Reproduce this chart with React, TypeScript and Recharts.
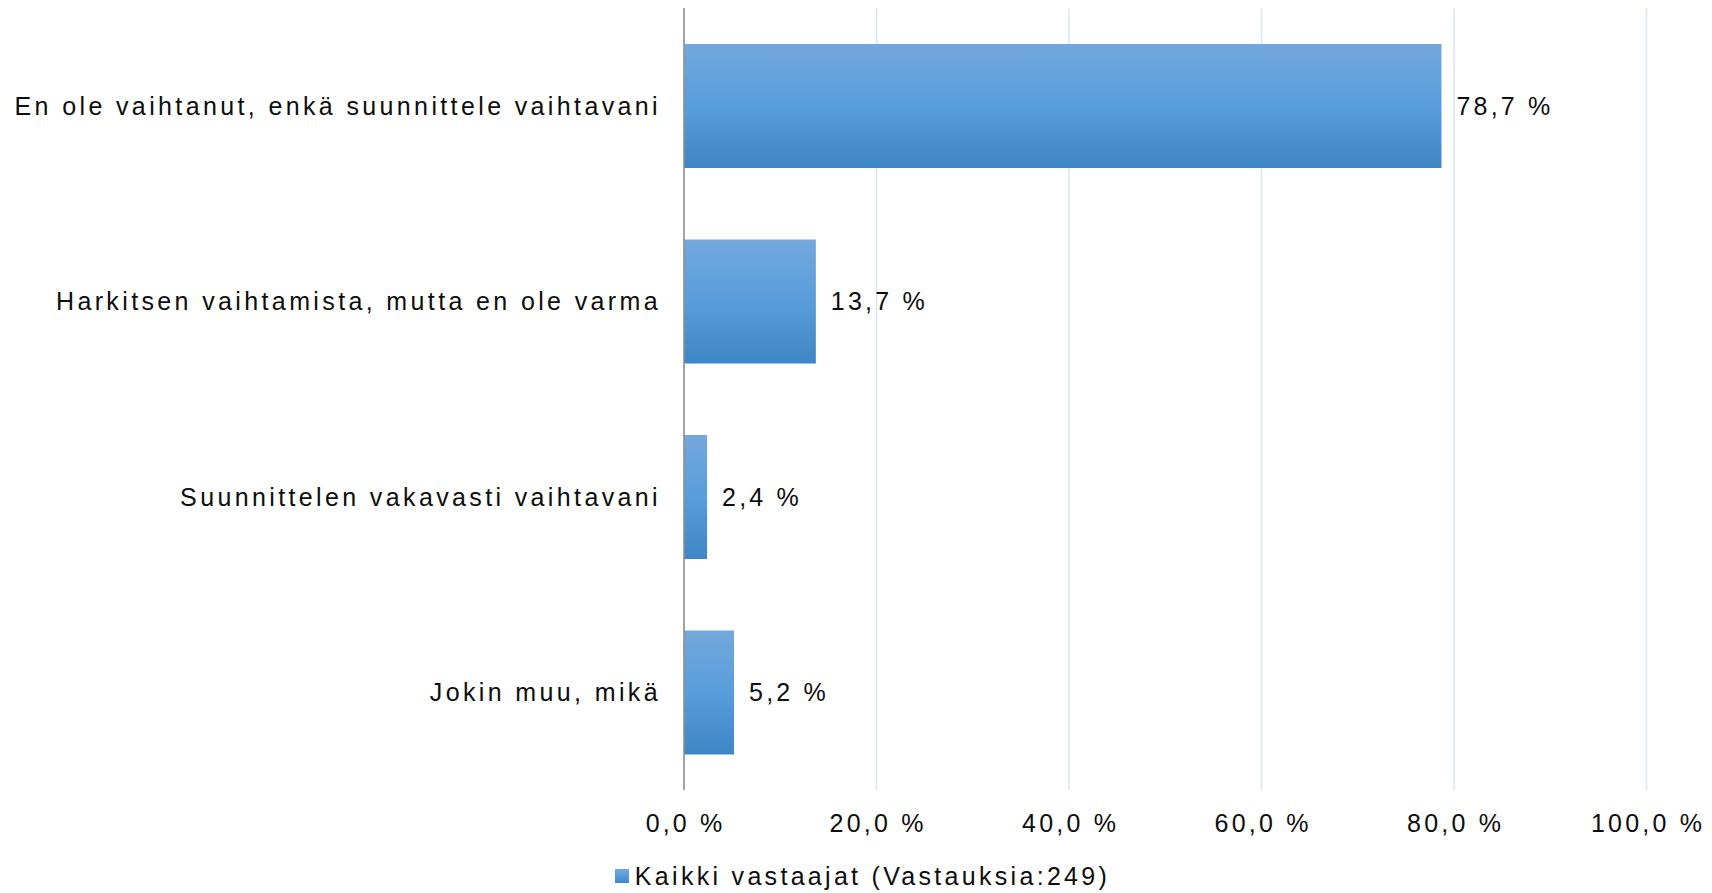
import React from "react";
import { BarChart, Bar, XAxis, YAxis, CartesianGrid, Legend, LabelList } from "recharts";

const categories = [
  "En ole vaihtanut, enkä suunnittele vaihtavani",
  "Harkitsen vaihtamista, mutta en ole varma",
  "Suunnittelen vakavasti vaihtavani",
  "Jokin muu, mikä",
];
const values = [78.7, 13.7, 2.4, 5.2];
const xTicks = [0, 20, 40, 60, 80, 100];
const seriesName = "Kaikki vastaajat (Vastauksia:249)";

const data = categories.map((c, i) => ({ name: c, value: values[i] }));

const FONT = "'Liberation Sans', Arial, sans-serif";
const fmt = (v: number) => v.toFixed(1).replace(".", ",") + " %";

const YTick = (props: any) => {
  const { x, y, payload } = props;
  return (
    <text x={x - 23} y={y} dy={9} textAnchor="end" fontFamily={FONT} fontSize={25} letterSpacing={3.37} fill="#0d0d0d">
      {payload.value}
    </text>
  );
};

const XTick = (props: any) => {
  const { x, y, payload } = props;
  return (
    <text x={x + 1.6} y={y} dy={42} textAnchor="middle" fontFamily={FONT} fontSize={25} letterSpacing={3.2} fill="#0d0d0d">
      {fmt(payload.value)}
    </text>
  );
};

const LegendContent = () => (
  <div style={{ display: "flex", justifyContent: "center", alignItems: "center", height: 34, lineHeight: "34px", paddingLeft: 13, fontFamily: FONT, fontSize: 25, letterSpacing: 3.3, color: "#0d0d0d" }}>
    <span style={{ display: "inline-block", width: 14, height: 14, marginRight: 6, background: "linear-gradient(#73a8dc, #579cdc, #3f86c6)" }} />
    <span>{seriesName}</span>
  </div>
);

export default function App() {
  return (
    <div style={{ position: "absolute", left: 0, top: 0 }}>
      <BarChart
        width={1712}
        height={890}
        data={data}
        layout="vertical"
        margin={{ top: 8, right: 65.5, left: 0, bottom: 6 }}
      >
        <defs>
          <linearGradient id="barGrad" x1="0" y1="0" x2="0" y2="1">
            <stop offset="0%" stopColor="#74a8dc" />
            <stop offset="50%" stopColor="#589ddc" />
            <stop offset="100%" stopColor="#3f86c6" />
          </linearGradient>
        </defs>
        <CartesianGrid horizontal={false} stroke="#dce6f1" strokeWidth={1.5} />
        <XAxis
          type="number"
          domain={[0, 100]}
          ticks={xTicks}
          axisLine={false}
          tickLine={false}
          tickSize={0}
          tickMargin={0}
          height={60}
          tick={<XTick />}
          interval={0}
        />
        <YAxis
          type="category"
          dataKey="name"
          width={684}
          axisLine={{ stroke: "#8c8c8c", strokeWidth: 1.5 }}
          tickLine={false}
          tickSize={0}
          tickMargin={0}
          tick={<YTick />}
          interval={0}
        />
        <Legend
          verticalAlign="bottom"
          content={<LegendContent />}
          wrapperStyle={{ left: 0, width: 1712, top: 859 }}
        />
        <Bar dataKey="value" name={seriesName} fill="url(#barGrad)" barSize={124} isAnimationActive={false}>
          <LabelList
            dataKey="value"
            position="right"
            offset={15}
            formatter={(v: any) => fmt(Number(v))}
            style={{ fontFamily: FONT, fontSize: 25, letterSpacing: 3.2, fill: "#0d0d0d" }}
          />
        </Bar>
      </BarChart>
    </div>
  );
}
